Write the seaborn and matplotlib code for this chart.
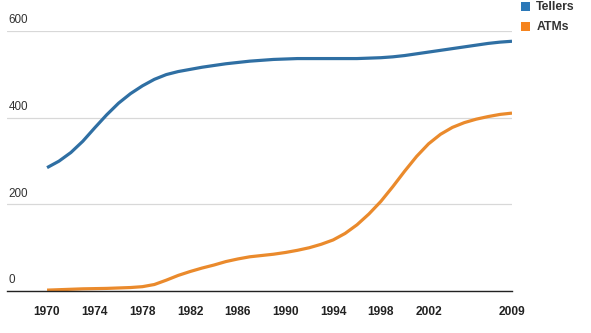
import matplotlib
matplotlib.use("Agg")
import matplotlib.pyplot as plt
from matplotlib.patches import Patch
import pandas as pd
import seaborn as sns

# Bank tellers vs. ATMs in the US (thousands), yearly
years = list(range(1970, 2010))
tellers = [285, 300, 320, 346, 377, 407, 434, 456, 474, 489,
           500, 507, 512, 517, 521, 525, 528, 531, 533, 535,
           536, 537, 537, 537, 537, 537, 537, 538, 539, 541,
           544, 548, 552, 556, 560, 564, 568, 572, 575, 577]
atms = [2, 3, 4, 5, 5.5, 6, 7, 8, 10, 15,
        25, 36, 45, 53, 60, 68, 74, 79, 82, 85,
        89, 94, 100, 108, 118, 133, 153, 178, 207, 241,
        277, 311, 340, 362, 378, 389, 397, 403, 408, 411]
series_names = ["Tellers", "ATMs"]
series_colors = ["#2f6fa3", "#ea8a2c"]
legend_colors = ["#2b78b8", "#f5841f"]
x_ticks = [1970, 1974, 1978, 1982, 1986, 1990, 1994, 1998, 2002, 2009]
y_ticks = [0, 200, 400, 600]

df = pd.DataFrame({
    "year": years * 2,
    "value": tellers + atms,
    "series": [series_names[0]] * len(years) + [series_names[1]] * len(years),
})

sns.set_style("white")
plt.rcParams["font.family"] = ["Liberation Sans", "DejaVu Sans"]

fig = plt.figure(figsize=(5.91, 3.33), dpi=100)
ax = fig.add_axes([7 / 591, 42 / 333, 505 / 591, 259.7 / 333])

sns.lineplot(data=df, x="year", y="value", hue="series",
             palette=dict(zip(series_names, series_colors)),
             linewidth=2.3, legend=False, ax=ax,
             solid_capstyle="butt", solid_joinstyle="round")

ax.set_xlim(1966.64, 2009)
ax.set_ylim(0, 600)
ax.set_xlabel("")
ax.set_ylabel("")

ax.set_xticks(x_ticks)
ax.set_xticklabels([str(t) for t in x_ticks], fontsize=8.6,
                   fontweight="bold", color="#222222")
ax.tick_params(axis="x", length=0, pad=11)

ax.set_yticks(y_ticks)
ax.set_yticklabels([])
ax.tick_params(axis="y", length=0)
for v in y_ticks:
    ax.annotate(str(v), xy=(0, v), xycoords=("axes fraction", "data"),
                xytext=(1, 3.5), textcoords="offset points",
                ha="left", va="bottom", fontsize=8.4, color="#333333")

ax.grid(axis="y", color="#d8d8d8", linewidth=0.9)
ax.grid(axis="x", visible=False)
for side in ["top", "left", "right"]:
    ax.spines[side].set_visible(False)
ax.spines["bottom"].set_color("#222222")
ax.spines["bottom"].set_linewidth(1.0)

handles = [Patch(facecolor=c, edgecolor="none") for c in legend_colors]
leg = fig.legend(handles, series_names, loc="upper left",
                 bbox_to_anchor=(521 / 591, 1 - 1.5 / 333),
                 frameon=False, borderpad=0, borderaxespad=0,
                 handlelength=0.75, handleheight=0.75, handletextpad=0.5,
                 labelspacing=0.65,
                 prop={"size": 8.8, "weight": "bold"})
for t in leg.get_texts():
    t.set_color("#333333")

fig.savefig("out.png", dpi=100)
